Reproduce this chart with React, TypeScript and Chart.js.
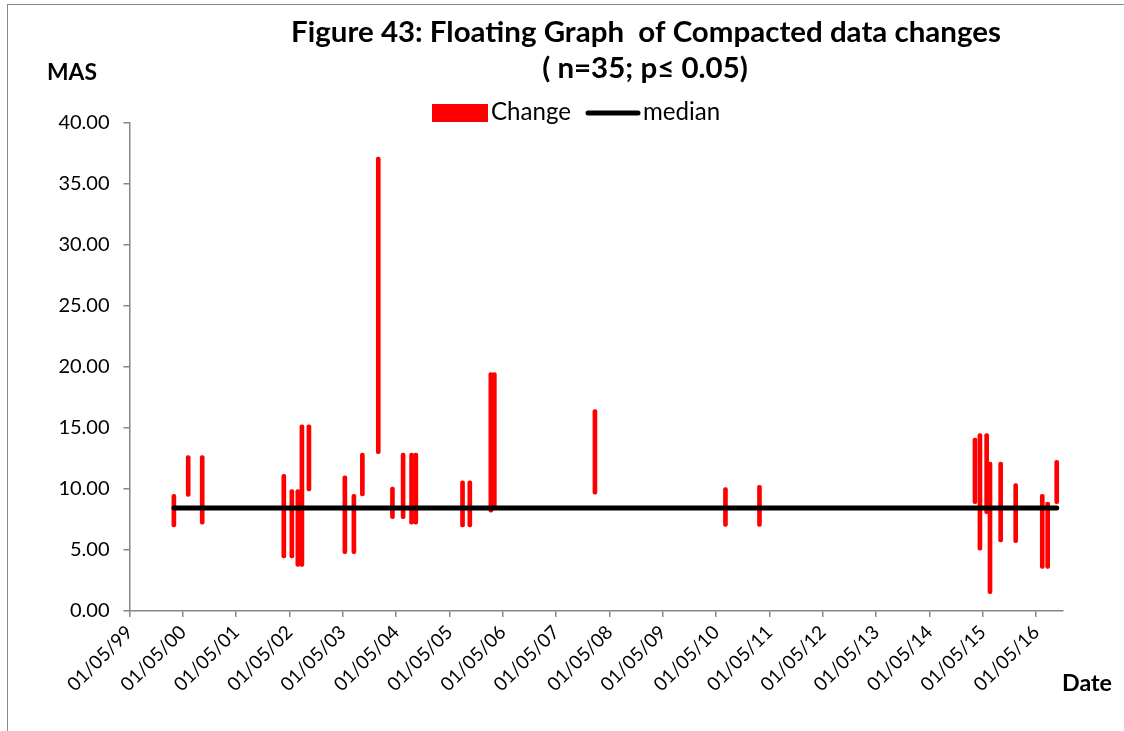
import { useEffect, useRef } from "react";
import { Chart, registerables } from "chart.js";
Chart.register(...registerables);

const changeDates = [
  "2000-02-29", "2000-06-06", "2000-09-10",
  "2002-03-23", "2002-05-17", "2002-06-27", "2002-07-25", "2002-09-11",
  "2003-05-15", "2003-07-16", "2003-09-12", "2003-12-30",
  "2004-04-05", "2004-06-17", "2004-08-14", "2004-09-12",
  "2005-07-29", "2005-09-17", "2006-02-08", "2006-03-04",
  "2008-01-22", "2010-07-04", "2011-02-22",
  "2015-03-09", "2015-04-12", "2015-05-28", "2015-06-20", "2015-09-01", "2015-12-13",
  "2016-06-12", "2016-07-19", "2016-09-19",
];
const changeLow = [
  6.89, 9.4, 7.11,
  4.36, 4.36, 3.66, 3.66, 9.84,
  4.7, 4.7, 9.43, 12.9,
  7.57, 7.57, 7.11, 7.11,
  6.89, 6.89, 8.11, 8.42,
  9.57, 6.94, 6.94,
  8.8, 4.98, 7.98, 1.43, 5.66, 5.61,
  3.48, 3.48, 8.8,
];
const changeHigh = [
  9.57, 12.74, 12.74,
  11.2, 9.96, 9.96, 15.26, 15.26,
  11.07, 9.57, 12.95, 37.21,
  10.16, 12.95, 12.95, 12.95,
  10.66, 10.66, 19.54, 19.54,
  16.51, 10.12, 10.3,
  14.18, 14.54, 14.54, 12.21, 12.21, 10.44,
  9.57, 8.93, 12.35,
];
const medianValue = 8.45;

const tickDates = [
  "1999-05-01", "2000-05-01", "2001-05-01", "2002-05-01", "2003-05-01", "2004-05-01",
  "2005-05-01", "2006-05-01", "2007-05-01", "2008-05-01", "2009-05-01", "2010-05-01",
  "2011-05-01", "2012-05-01", "2013-05-01", "2014-05-01", "2015-05-01", "2016-05-01",
];
const tickLabels = [
  "01/05/99", "01/05/00", "01/05/01", "01/05/02", "01/05/03", "01/05/04",
  "01/05/05", "01/05/06", "01/05/07", "01/05/08", "01/05/09", "01/05/10",
  "01/05/11", "01/05/12", "01/05/13", "01/05/14", "01/05/15", "01/05/16",
];
const axisStart = "1999-05-01";
const axisEnd = "2016-11-01";
const yMin = 0;
const yMax = 40;
const yStep = 5;

const titleLines = ["Figure 43: Floating Graph  of Compacted data changes", "( n=35; p\u2264 0.05)"];
const seriesNames = ["Change", "median"];
const yAxisTitle = "MAS";
const xAxisTitle = "Date";

const DAY = 86400000;
const toDay = (s: string) => Date.parse(s + "T00:00:00Z") / DAY;
const FONT = 'Lato, "Open Sans", sans-serif';
const AXIS_GREY = "#868686";

function fitSize(ctx: CanvasRenderingContext2D, text: string, weight: string, width: number) {
  ctx.font = `${weight} 100px ${FONT}`;
  const w = ctx.measureText(text).width;
  return (100 * width) / w;
}

const textPlugin = {
  id: "textPlugin",
  afterDraw(chart: any) {
    const ctx: CanvasRenderingContext2D = chart.ctx;
    ctx.save();
    ctx.fillStyle = "#000";
    ctx.textBaseline = "alphabetic";
    // title
    const ts = fitSize(ctx, titleLines[0], "bold", 710);
    ctx.font = `bold ${ts}px ${FONT}`;
    ctx.textAlign = "center";
    ctx.fillText(titleLines[0], 646, 42);
    ctx.fillText(titleLines[1], 645, 78);
    // axis titles
    ctx.textAlign = "left";
    const ms = fitSize(ctx, yAxisTitle, "bold", 50);
    ctx.font = `bold ${ms}px ${FONT}`;
    ctx.fillText(yAxisTitle, 47, 80);
    const ds = fitSize(ctx, xAxisTitle, "bold", 50);
    ctx.font = `bold ${ds}px ${FONT}`;
    ctx.fillText(xAxisTitle, 1062, 691);
    // legend
    ctx.fillStyle = "#FF0000";
    ctx.fillRect(432, 104, 56, 18);
    ctx.strokeStyle = "#000";
    ctx.lineWidth = 5;
    ctx.lineCap = "round";
    ctx.beginPath();
    ctx.moveTo(588, 113);
    ctx.lineTo(638, 113);
    ctx.stroke();
    const ls = fitSize(ctx, seriesNames[0], "normal", 80);
    ctx.font = `normal ${ls}px ${FONT}`;
    ctx.fillStyle = "#000";
    ctx.fillText(seriesNames[0], 491, 120);
    ctx.fillText(seriesNames[1], 643, 120);
    ctx.restore();
  },
};

export default function App() {
  const ref = useRef<HTMLCanvasElement | null>(null);
  useEffect(() => {
    if (!ref.current) return;
    const barData = changeDates.map((d, i) => ({ x: toDay(d), y: [changeLow[i], changeHigh[i]] }));
    const medianData = [
      { x: toDay(changeDates[0]), y: medianValue },
      { x: toDay(changeDates[changeDates.length - 1]), y: medianValue },
    ];
    const chart = new Chart(ref.current, {
      type: "bar",
      data: {
        datasets: [
          {
            type: "bar",
            label: seriesNames[0],
            data: barData as any,
            backgroundColor: "#FF0000",
            barThickness: 4,
            borderRadius: 2,
            borderSkipped: false,
            order: 2,
          },
          {
            type: "line",
            label: seriesNames[1],
            data: medianData as any,
            borderColor: "#000",
            borderWidth: 5,
            borderCapStyle: "round",
            pointRadius: 0,
            fill: false,
            order: 1,
          },
        ],
      } as any,
      options: {
        responsive: false,
        animation: false,
        devicePixelRatio: 1,
        layout: { padding: { top: 123, right: 61, bottom: 0, left: 0 } },
        plugins: { legend: { display: false }, title: { display: false }, tooltip: { enabled: false } },
        scales: {
          x: {
            type: "linear",
            offset: false,
            min: toDay(axisStart),
            max: toDay(axisEnd),
            afterBuildTicks: (scale: any) => {
              scale.ticks = tickDates.map((d) => ({ value: toDay(d) }));
            },
            afterFit: (scale: any) => {
              scale.height = 731 - 611;
            },
            grid: {
              offset: false,
              drawOnChartArea: false,
              drawTicks: true,
              tickLength: 6,
              color: AXIS_GREY,
              lineWidth: 1.5,
            },
            border: { display: true, color: AXIS_GREY, width: 1.5 },
            ticks: {
              autoSkip: false,
              maxRotation: 45,
              minRotation: 45,
              padding: 4,
              color: "#000",
              font: { family: FONT, size: 19 },
              callback: (_v: any, i: number) => tickLabels[i],
            },
          },
          y: {
            type: "linear",
            min: yMin,
            max: yMax,
            afterFit: (scale: any) => {
              scale.width = 129.5;
            },
            grid: { drawOnChartArea: false, drawTicks: true, tickLength: 6, color: AXIS_GREY, lineWidth: 1.5 },
            border: { display: true, color: AXIS_GREY, width: 1.5 },
            ticks: {
              stepSize: yStep,
              padding: 14,
              color: "#000",
              font: { family: FONT, size: 20 },
              callback: (v: any) => Number(v).toFixed(2),
            },
          },
        },
      } as any,
      plugins: [textPlugin],
    });
    return () => chart.destroy();
  }, []);
  return (
    <div>
      <div
        style={{
          position: "fixed",
          left: 7,
          top: 4,
          width: 1300,
          height: 900,
          borderTop: "1.5px solid #8a8a8a",
          borderLeft: "1.5px solid #8a8a8a",
          boxSizing: "border-box",
        }}
      />
      <canvas
        ref={ref}
        width={1124}
        height={731}
        style={{ position: "fixed", left: 0, top: 0, width: 1124, height: 731 }}
      />
    </div>
  );
}
